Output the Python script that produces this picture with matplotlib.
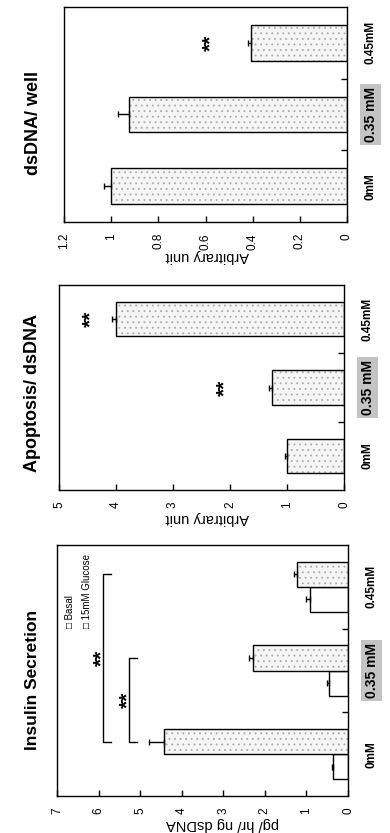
import numpy as np
import matplotlib
matplotlib.use("Agg")
import matplotlib.pyplot as plt
from matplotlib.transforms import offset_copy

plt.rcParams["font.family"] = ["Liberation Sans", "DejaVu Sans"]
plt.rcParams["hatch.linewidth"] = 0.6

# Categories (dose)
doses = ["0mM", "0.35 mM", "0.45mM"]

# Insulin secretion (pg/ hr/ ng dsDNA)
insulin_basal = [0.36, 0.46, 0.91]
insulin_basal_err = [0.03, 0.05, 0.09]
insulin_glucose = [4.42, 2.28, 1.23]
insulin_glucose_err = [0.36, 0.10, 0.06]
insulin_ticks = [0, 1, 2, 3, 4, 5, 6, 7]
insulin_ticklabels = ["0", "1", "2", "3", "4", "5", "6", "7"]

# Apoptosis / dsDNA (arbitrary unit)
apoptosis = [1.0, 1.26, 4.0]
apoptosis_err = [0.03, 0.06, 0.07]
apoptosis_ticks = [0, 1, 2, 3, 4, 5]
apoptosis_ticklabels = ["0", "1", "2", "3", "4", "5"]

# dsDNA / well (arbitrary unit)
dsdna = [1.0, 0.925, 0.405]
dsdna_err = [0.03, 0.045, 0.015]
dsdna_ticks = [0, 0.2, 0.4, 0.6, 0.8, 1.0, 1.2]
dsdna_ticklabels = ["0", "0.2", "0.4", "0.6", "0.8", "1", "1.2"]

W, H = 390, 833
fig = plt.figure(figsize=(W / 100, H / 100), dpi=100)


def px_axes(left, top, right, bottom):
    """Add axes from pixel box of the (rotated) scan."""
    return fig.add_axes([left / W, 1 - bottom / H, (right - left) / W, (bottom - top) / H])


def stipple_barh(ax, y, values, height, speckled=True):
    """Bars with a light stippled fill and black outline."""
    if speckled:
        ax.barh(y, values, height=height, color="#f5f5f5", edgecolor="#ababab",
                hatch="...", linewidth=0)
    else:
        ax.barh(y, values, height=height, color="white", linewidth=0)
    ax.barh(y, values, height=height, fill=False, edgecolor="black", linewidth=1.0)


def error_caps(ax, y, values, errs):
    """One-sided error bars (outward only)."""
    ax.errorbar(values, y, xerr=[np.zeros(len(errs)), errs], fmt="none",
                ecolor="black", elinewidth=1, capsize=2.5, capthick=1)


def setup_axes(ax, ticks, ticklabels, xlabel, label_xy):
    ax.set_xlim(max(ticks), 0)
    ax.set_ylim(-0.5, 2.5)
    ax.set_xticks(ticks)
    ax.set_xticklabels(ticklabels, rotation=90, fontsize=8.5)
    ax.tick_params(axis="x", direction="in", length=4, width=1, pad=8)
    ax.yaxis.tick_right()
    ax.set_yticks(range(len(doses)))
    ax.set_yticklabels(doses, rotation=90, fontsize=8.5, fontweight="bold")
    ax.set_yticks([0.5, 1.5], minor=True)
    ax.tick_params(axis="y", which="major", length=0, pad=17)
    ax.tick_params(axis="y", which="minor", direction="in", length=4, width=1,
                   right=True, left=False)
    for lbl in ax.get_yticklabels():
        lbl.set_ha("center")
        lbl.set_va("center")
    hl = ax.get_yticklabels()[1]
    hl.set_fontsize(10)
    hl.set_bbox(dict(boxstyle="square,pad=0.25", facecolor="#c4c4c4", edgecolor="none"))
    ax.set_xlabel(xlabel, rotation=180, fontsize=10.5, va="center", ha="center")
    ax.xaxis.set_label_coords(*label_xy)
    for s in ax.spines.values():
        s.set_linewidth(1.0)


def stars(ax, x, y):
    # asterisks sit high in the em box; nudge so the ink is centred on (x, y)
    tr = offset_copy(ax.transData, fig=fig, x=6, y=0, units="dots")
    ax.text(x, y, "**", transform=tr, rotation=90, ha="center", va="center",
            fontsize=15, fontweight="bold")


cats = np.arange(len(doses))

# ---- Insulin secretion (bottom panel) ----
ax1 = px_axes(57, 545, 348, 796)
bw = 0.3
stipple_barh(ax1, cats - bw / 2, insulin_basal, bw, speckled=False)
stipple_barh(ax1, cats + bw / 2, insulin_glucose, bw, speckled=True)
error_caps(ax1, cats - bw / 2, insulin_basal, insulin_basal_err)
error_caps(ax1, cats + bw / 2, insulin_glucose, insulin_glucose_err)
setup_axes(ax1, insulin_ticks, insulin_ticklabels, "pg/ hr/ ng dsDNA", (0.57, -0.112))

# significance brackets between glucose bars
for i, j, level in [(0, 1, 5.26), (0, 2, 5.89)]:
    yi, yj = cats[i] + bw / 2, cats[j] + bw / 2
    ax1.plot([level - 0.19, level, level, level - 0.19], [yi, yi, yj, yj],
             color="black", lw=1.0)
    stars(ax1, level + 0.17, (yi + yj) / 2)

ax1.text(0.045, 0.67, "\u25a1 Basal", transform=ax1.transAxes, rotation=90,
         ha="center", va="bottom", fontsize=7)
ax1.text(0.103, 0.67, "\u25a1 15mM Glucose", transform=ax1.transAxes, rotation=90,
         ha="center", va="bottom", fontsize=7)
fig.text(33 / W, 1 - 680 / H, "Insulin Secretion", rotation=90, ha="center",
         va="center", fontsize=12.5, fontweight="bold")

# ---- Apoptosis / dsDNA (middle panel) ----
ax2 = px_axes(59, 285, 344, 490)
stipple_barh(ax2, cats, apoptosis, 0.5)
error_caps(ax2, cats, apoptosis, apoptosis_err)
setup_axes(ax2, apoptosis_ticks, apoptosis_ticklabels, "Arbitrary unit", (0.519, -0.135))
stars(ax2, apoptosis[1] + 0.93, cats[1])
stars(ax2, apoptosis[2] + 0.54, cats[2])
fig.text(33 / W, 1 - 393 / H, "Apoptosis/ dsDNA", rotation=90, ha="center",
         va="center", fontsize=13, fontweight="bold")

# ---- dsDNA / well (top panel) ----
ax3 = px_axes(64, 7, 347, 222)
stipple_barh(ax3, cats, dsdna, 0.5)
error_caps(ax3, cats, dsdna, dsdna_err)
setup_axes(ax3, dsdna_ticks, dsdna_ticklabels, "Arbitrary unit", (0.507, -0.16))
stars(ax3, dsdna[2] + 0.2, cats[2])
fig.text(33 / W, 1 - 123 / H, "dsDNA/ well", rotation=90, ha="center",
         va="center", fontsize=13, fontweight="bold")

fig.savefig("out.png", dpi=100)
